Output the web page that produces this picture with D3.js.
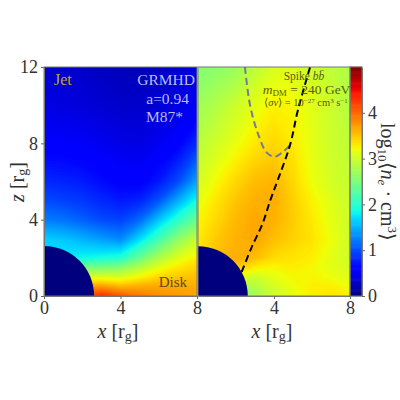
<!DOCTYPE html>
<html>
<head>
<meta charset="utf-8">
<script src="https://cdn.jsdelivr.net/npm/d3@7"></script>
<style>
  html, body { margin: 0; padding: 0; background: #fff; }
  text { font-family: "Liberation Serif", serif; fill: #333; }
</style>
</head>
<body>
<svg id="chart" width="400" height="400"></svg>
<script>
// grid positions of the density maps, in r_g
const xCols = [0, 1, 2, 3, 4, 5, 6, 7, 8];
const zRows = [0, 0.5, 1, 1.5, 2, 3, 4, 5, 6, 8, 10, 12];

// log10 density, GRMHD panel, one row per zRows entry
const jetDensity = [
  [3.9, 3.9, 4.1, 4.35, 4.12, 3.95, 3.82, 3.75, 3.7],
  [3.5, 3.6, 3.7, 3.75, 3.6, 3.65, 3.68, 3.66, 3.65],
  [2.9, 3.0, 3.1, 3.1, 3.08, 3.25, 3.42, 3.5, 3.55],
  [2.3, 2.4, 2.5, 2.5, 2.58, 2.85, 3.15, 3.33, 3.44],
  [1.7, 1.8, 1.85, 1.9, 1.98, 2.4, 2.8, 3.1, 3.3],
  [1.65, 1.6, 1.5, 1.4, 1.3, 1.7, 2.15, 2.6, 2.95],
  [1.25, 1.2, 1.1, 1.0, 0.95, 1.15, 1.6, 2.02, 2.4],
  [1.0, 0.95, 0.9, 0.82, 0.75, 0.8, 1.05, 1.48, 1.9],
  [0.82, 0.8, 0.76, 0.68, 0.6, 0.6, 0.75, 1.0, 1.45],
  [0.58, 0.56, 0.54, 0.5, 0.46, 0.44, 0.5, 0.6, 0.85],
  [0.44, 0.42, 0.4, 0.37, 0.34, 0.34, 0.38, 0.44, 0.52],
  [0.36, 0.36, 0.33, 0.3, 0.26, 0.26, 0.3, 0.36, 0.42]
];

// log10 density, spike panel
const spikeDensity = [
  [3.3, 3.0, 2.6, 2.7, 3.0, 3.15, 3.3, 3.35, 3.3],
  [3.3, 3.1, 2.8, 2.85, 3.05, 3.2, 3.3, 3.3, 3.2],
  [3.4, 3.4, 3.2, 3.0, 3.15, 3.25, 3.25, 3.2, 3.1],
  [3.4, 3.5, 3.5, 3.3, 3.25, 3.3, 3.25, 3.15, 3.05],
  [3.4, 3.55, 3.65, 3.55, 3.4, 3.35, 3.3, 3.15, 3.0],
  [3.32, 3.5, 3.62, 3.68, 3.55, 3.45, 3.35, 3.2, 3.0],
  [3.25, 3.42, 3.58, 3.68, 3.62, 3.48, 3.32, 3.15, 3.0],
  [3.15, 3.35, 3.52, 3.63, 3.65, 3.45, 3.28, 3.12, 2.98],
  [3.05, 3.25, 3.42, 3.56, 3.6, 3.42, 3.2, 3.05, 2.95],
  [2.88, 3.03, 3.18, 3.33, 3.42, 3.32, 3.15, 3.0, 2.92],
  [2.72, 2.85, 3.0, 3.15, 3.28, 3.25, 3.12, 3.0, 2.85],
  [2.55, 2.6, 2.7, 2.9, 3.08, 3.1, 3.0, 2.92, 2.82]
];

// dashed curves on the spike panel, [x, z] in r_g
const blackCurve = [[2.3, 1.26], [2.8, 2.5], [3.4, 3.8], [3.8, 5], [4.2, 6.08], [4.84, 7.9], [5.26, 9.75], [5.9, 12]];
const greyCurve = [[2.47, 12], [2.74, 10], [3.16, 8.5], [3.63, 7.5], [4.05, 7.3], [4.47, 7.55], [4.84, 7.9]];

const xTicksLeft = [0, 4, 8];
const xTicksRight = [4, 8];
const zTicks = [0, 4, 8, 12];
const barTicks = [0, 1, 2, 3, 4];
const horizonRadius = 2.62;

// jet colormap breakpoints
const jetPos = [0, 0.11, 0.125, 0.34, 0.35, 0.375, 0.64, 0.65, 0.66, 0.89, 0.91, 1];
const jetStops = ['#00007f', '#0000ff', '#0000ff', '#00dbff', '#00e6f7', '#15ffe2', '#eeff08', '#f7f600', '#ffec00', '#ff1300', '#e80000', '#7f0000'];

const color = d3.scaleLinear().domain(jetPos.map(d => d * 5)).range(jetStops).clamp(true);
const levels = d3.range(0, 5.01, 0.02);

const svg = d3.select('#chart');
const top_ = 67, bottom = 296;
const z = d3.scaleLinear().domain([0, 12]).range([bottom, top_]);
const xLeft = d3.scaleLinear().domain([0, 8]).range([44, 197]);
const xRight = d3.scaleLinear().domain([0, 8]).range([198, 350]);

function panel(x, grid, id) {
  const g = svg.append('g');
  g.append('clipPath').attr('id', id).append('rect')
    .attr('x', x(0)).attr('y', top_).attr('width', x(8) - x(0)).attr('height', bottom - top_);
  const maps = g.append('g').attr('clip-path', `url(#${id})`);
  const contours = d3.contours().size([xCols.length, zRows.length]).thresholds(levels).smooth(true);
  // contour coordinates are in cell units, half a cell off the grid nodes
  const colIdx = d3.scaleLinear().domain(xCols.map((d, i) => i + 0.5)).range(xCols.map(x));
  const rowIdx = d3.scaleLinear().domain(zRows.map((d, i) => i + 0.5)).range(zRows.map(z));
  const path = d3.geoPath(d3.geoTransform({
    point(px, py) { this.stream.point(colIdx(px), rowIdx(py)); }
  }));
  maps.append('rect').attr('x', x(0)).attr('y', top_).attr('width', x(8) - x(0)).attr('height', bottom - top_)
    .attr('fill', color(d3.min(grid.flat())));
  maps.selectAll('path.band').data(contours(grid.flat())).join('path')
    .attr('class', 'band')
    .attr('d', path)
    .attr('fill', d => color(d.value));
  maps.append('circle')
    .attr('cx', x(0)).attr('cy', z(0))
    .attr('r', x(horizonRadius) - x(0))
    .attr('fill', '#00007f');
  return maps;
}

const leftMaps = panel(xLeft, jetDensity, 'clipL');
const rightMaps = panel(xRight, spikeDensity, 'clipR');

const curve = d3.line().x(d => xRight(d[0])).y(d => z(d[1])).curve(d3.curveCatmullRom);
rightMaps.append('path').attr('d', curve(greyCurve)).attr('fill', 'none')
  .attr('stroke', '#77779a').attr('stroke-width', 2).attr('stroke-dasharray', '7 4');
rightMaps.append('path').attr('d', curve(blackCurve)).attr('fill', 'none')
  .attr('stroke', '#000').attr('stroke-width', 2).attr('stroke-dasharray', '7 4');

// colorbar
const bar = d3.scaleLinear().domain([0, 5]).range([bottom, top_]);
svg.append('g').selectAll('rect').data(d3.range(0, 5, 0.02)).join('rect')
  .attr('x', 350).attr('width', 12)
  .attr('y', d => bar(d + 0.02) - 0.3).attr('height', bar(0) - bar(0.02) + 0.6)
  .attr('fill', d => color(d + 0.01));

function styleAxis(g) {
  g.select('.domain').attr('stroke', '#777').attr('stroke-width', 1);
  g.selectAll('.tick line').attr('stroke', '#666');
  g.selectAll('.tick text').attr('font-size', 18).attr('font-family', '"Liberation Serif", serif').style('fill', '#333');
}

svg.append('g').attr('transform', `translate(44,0)`)
  .call(d3.axisLeft(z).tickValues(zTicks).tickSize(3).tickPadding(3).tickSizeOuter(0).tickFormat(d3.format('d'))).call(styleAxis);
svg.append('g').attr('transform', `translate(0,${bottom})`)
  .call(d3.axisBottom(xLeft).tickValues(xTicksLeft).tickSize(3).tickPadding(2).tickSizeOuter(0).tickFormat(d3.format('d'))).call(styleAxis);
svg.append('g').attr('transform', `translate(0,${bottom})`)
  .call(d3.axisBottom(xRight).tickValues(xTicksRight).tickSize(3).tickPadding(2).tickSizeOuter(0).tickFormat(d3.format('d'))).call(styleAxis);
svg.append('g').attr('transform', `translate(362,0)`)
  .call(d3.axisRight(bar).tickValues(barTicks).tickSize(3).tickPadding(3).tickSizeOuter(0).tickFormat(d3.format('d'))).call(styleAxis);

// panel frames
[[xLeft(0), xLeft(8)], [xRight(0), xRight(8)], [350, 362]].forEach(([a, b]) => {
  svg.append('rect').attr('x', a).attr('y', top_).attr('width', b - a).attr('height', bottom - top_)
    .attr('fill', 'none').attr('stroke', '#777').attr('stroke-width', 1);
});

// axis titles
function axisTitle(x0, y0, rot) {
  return svg.append('text').attr('transform', `translate(${x0},${y0}) rotate(${rot})`)
    .attr('text-anchor', 'middle').attr('font-size', 20);
}
function rgLabel(t, name) {
  t.append('tspan').attr('font-style', 'italic').text(name);
  t.append('tspan').text(' [r');
  t.append('tspan').attr('font-size', 14).attr('dy', 3).text('g');
  t.append('tspan').attr('dy', -3).text(']');
}
rgLabel(axisTitle(118, 338, 0), 'x');
rgLabel(axisTitle(272, 338, 0), 'x');
rgLabel(axisTitle(24, 182, -90), 'z');
{
  const t = axisTitle(381, 182, 90);
  t.append('tspan').text('log');
  t.append('tspan').attr('font-size', 13).attr('dy', 3).text('10');
  t.append('tspan').attr('dy', -3).text('⟨');
  t.append('tspan').attr('font-style', 'italic').text('n');
  t.append('tspan').attr('font-style', 'italic').attr('font-size', 13).attr('dy', 3).text('e');
  t.append('tspan').attr('dy', -3).text(' · cm');
  t.append('tspan').attr('font-size', 13).attr('dy', -7).text('3');
  t.append('tspan').attr('dy', 7).text('⟩');
}

// panel annotations
function note(x0, y0, txt, size, fill, anchor) {
  return svg.append('text').attr('x', x0).attr('y', y0).attr('font-size', size)
    .attr('text-anchor', anchor).style('fill', fill).text(txt);
}
note(54, 85, 'Jet', 16, '#b9a52a', 'start');
note(195, 85, 'GRMHD', 15.5, '#b9bdf0', 'end');
note(189, 104, 'a=0.94', 15.5, '#b9bdf0', 'end');
note(183, 122, 'M87*', 15.5, '#b9bdf0', 'end');
note(187, 287, 'Disk', 15, '#5c4a1c', 'end');

const spikeInk = '#5d5a10';
{
  const t = note(304, 80, 'Spike ', 11.5, spikeInk, 'middle');
  t.append('tspan').attr('font-style', 'italic').text('b');
  t.append('tspan').attr('font-style', 'italic').text('b̄');
}
{
  const t = note(306.5, 94, '', 13.5, spikeInk, 'middle');
  t.append('tspan').attr('font-style', 'italic').text('m');
  t.append('tspan').attr('font-size', 9).attr('dy', 2).text('DM');
  t.append('tspan').attr('dy', -2).text(' = 240 GeV');
}
{
  const t = note(306, 106, '⟨', 10.5, spikeInk, 'middle');
  t.append('tspan').attr('font-style', 'italic').text('σv');
  t.append('tspan').text('⟩ = 10');
  t.append('tspan').attr('font-size', 7).attr('dy', -3).text('−27');
  t.append('tspan').attr('dy', 3).text(' cm');
  t.append('tspan').attr('font-size', 7).attr('dy', -3).text('3');
  t.append('tspan').attr('dy', 3).text(' s');
  t.append('tspan').attr('font-size', 7).attr('dy', -3).text('−1');
}
</script>
</body>
</html>
